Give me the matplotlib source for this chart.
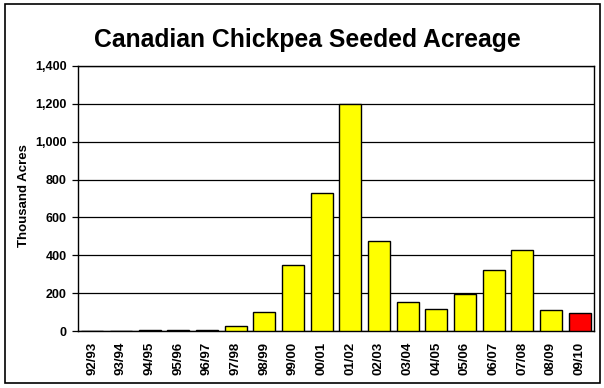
import matplotlib
matplotlib.use("Agg")
import matplotlib.pyplot as plt
from matplotlib.patches import Rectangle
from matplotlib.ticker import FuncFormatter, MultipleLocator

plt.rcParams['font.family'] = ['Liberation Sans', 'DejaVu Sans']

seasons = ["92/93", "93/94", "94/95", "95/96", "96/97", "97/98", "98/99",
           "99/00", "00/01", "01/02", "02/03", "03/04", "04/05", "05/06",
           "06/07", "07/08", "08/09", "09/10"]
acres = [0, 0, 3, 3, 7, 25, 99, 350, 730, 1200, 475, 155, 115, 196,
         320, 428, 110, 97]
colors = ["#FFFF00"] * (len(seasons) - 1) + ["#FF0000"]

fig = plt.figure(figsize=(6.04, 3.88), dpi=100)
fig.patches.append(Rectangle((0.009, 0.012), 0.984, 0.978, transform=fig.transFigure,
                             fill=False, edgecolor="black", linewidth=1.2))

ax = fig.add_axes([78 / 604, 1 - 331 / 388, (594 - 78) / 604, (331 - 66) / 388])
x = range(len(seasons))
ax.bar(x, acres, width=0.76, color=colors, edgecolor="black", linewidth=1.0, zorder=3)

ax.set_xlim(-0.5, len(seasons) - 0.5)
ax.set_ylim(0, 1400)
ax.yaxis.set_major_locator(MultipleLocator(200))
ax.yaxis.set_major_formatter(FuncFormatter(lambda v, p: f"{int(v):,}"))
ax.grid(axis="y", color="black", linewidth=0.9, zorder=1)

ax.set_xticks(list(x))
ax.set_xticklabels(seasons, rotation=90, fontsize=9.5, fontweight="bold")
ax.tick_params(axis="x", length=0, pad=8)
ax.tick_params(axis="y", length=4, width=0.9, labelsize=9, pad=4)
for lab in ax.get_yticklabels():
    lab.set_fontweight("bold")

for s in ax.spines.values():
    s.set_linewidth(1.0)
    s.set_color("black")

fig.text(24 / 604, 1 - 196 / 388, "Thousand Acres", rotation=90, ha="center", va="center",
         fontsize=9.5, fontweight="bold")
fig.text(307 / 604, 1 - 40 / 388, "Canadian Chickpea Seeded Acreage", ha="center", va="center",
         fontsize=17.8, fontweight="bold")

fig.savefig("out.png", dpi=100)
